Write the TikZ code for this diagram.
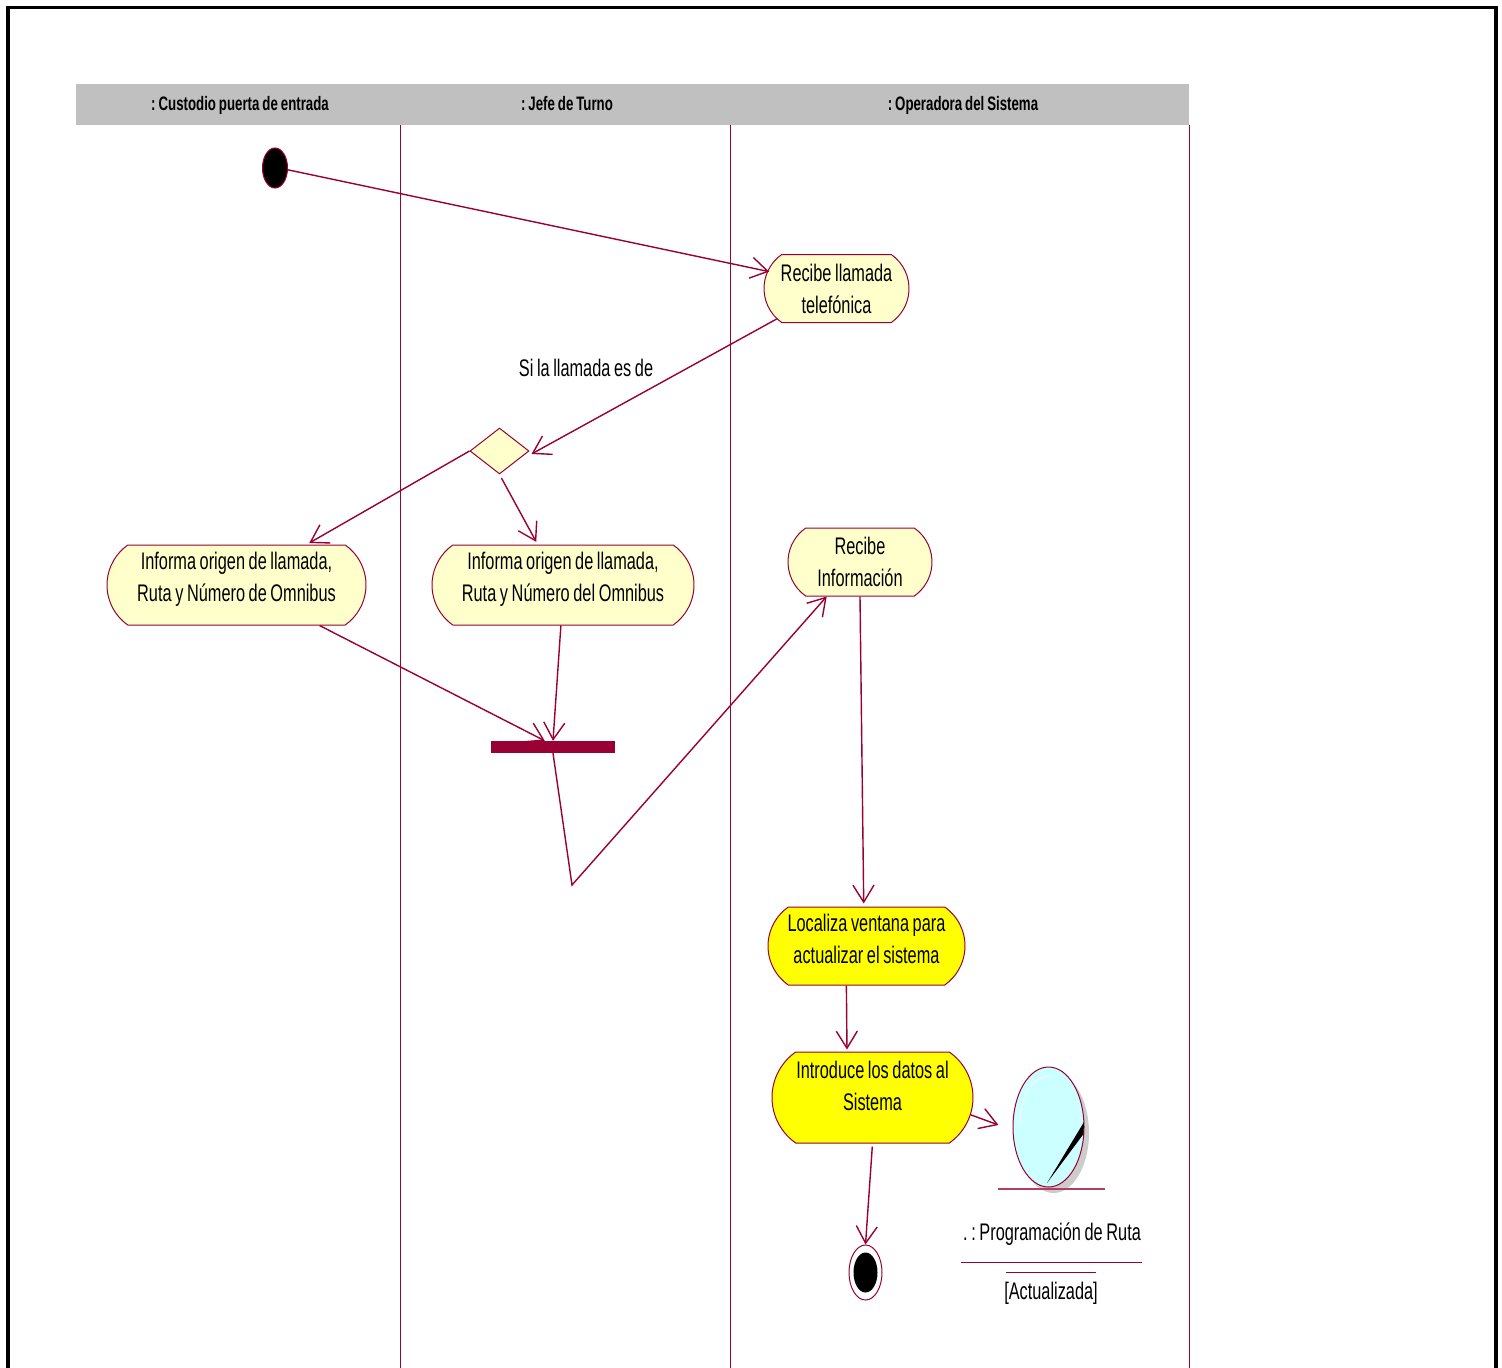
\documentclass[tikz,border=0pt]{standalone}
\usepackage{fontspec}
\setmainfont[FakeStretch=0.68,WordSpace=0.8]{Liberation Sans}
\usetikzlibrary{arrows.meta,shapes.geometric,shapes.misc,calc}
\definecolor{umlline}{HTML}{990033}
\definecolor{umlfill}{HTML}{FFFFCC}
\definecolor{hdr}{HTML}{C0C0C0}
\definecolor{objfill}{HTML}{CCFFFF}
\definecolor{actyellow}{HTML}{FFFF00}
\frenchspacing
\newcommand\liftext[2]{\raisebox{#1}[0pt][0pt]{\begin{tabular}{@{}c@{}}#2\end{tabular}}}
\tikzset{
  lab/.style={font=\fontsize{24}{32}\selectfont,align=center,inner sep=0pt},
  hlab/.style={font=\bfseries\fontsize{19.5}{22}\selectfont,inner sep=0pt,anchor=base},
  act/.style={rounded rectangle,rounded rectangle arc length=110,draw=umlline,line width=1pt,fill=umlfill,
    font=\fontsize{24}{32}\selectfont,align=center,inner sep=0pt},
  actY/.style={act,fill=actyellow},
  flow/.style={draw=umlline,line width=1.4pt,-{Straight Barb[length=17pt,width=21pt,line width=1.4pt]}},
  lane/.style={draw=umlline,line width=0.9pt},
  dot/.style={ellipse,fill=black,draw=umlline,line width=1pt,inner sep=0pt},
}
\begin{document}
\begin{tikzpicture}[x=1pt,y=-1pt]
\useasboundingbox (0,0) rectangle (1502,1368);
\fill[white] (0,0) rectangle (1502,1368);
% frame
\draw[black,line width=3.5pt] (8,1368) -- (8,7.5) -- (1496,7.5) -- (1496,1368);
% header
\node[fill=hdr,minimum width=1113pt,minimum height=41pt,inner sep=0pt] (hdrbar) at (632.5,104.5) {};
\node[hlab] (h1) at (240,110) {: Custodio puerta de entrada};
\node[hlab] (h2) at (567,110) {: Jefe de Turno};
\node[hlab] (h3) at (963,110) {: Operadora del Sistema};
% lanes
\draw[lane] (400.5,125) -- (400.5,1368);
\draw[lane] (730,125) -- (730,1368);
\draw[lane] (1189,125) -- (1189,1368);
% nodes
\node[dot,minimum width=25pt,minimum height=40pt] (start) at (275,168) {};
\node[act,minimum width=145pt,minimum height=68pt] (rec) at (836.5,288.5) {Recibe llamada\\telefónica};
\node[diamond,draw=umlline,line width=1pt,fill=umlfill,inner sep=0pt,minimum width=59pt,minimum height=46pt] (dec) at (499.5,451) {};
\node[lab] (cond) at (586,368) {Si la llamada es de};
\node[act,minimum width=262pt,minimum height=80pt] (inf2) at (563,585) {\liftext{0pt}{Informa origen de llamada,\\Ruta y Número del Omnibus}};
\node[act,minimum width=259pt,minimum height=80pt] (inf1) at (236.5,585) {\liftext{0pt}{Informa origen de llamada,\\Ruta y Número de Omnibus}};
\node[fill=umlline,minimum width=124pt,minimum height=12pt,inner sep=0pt] (bar) at (553,747) {};
\coordinate (bend) at (572,885);
\node[act,minimum width=144pt,minimum height=68pt] (rec2) at (860,562) {Recibe\\Información};
\node[actY,minimum width=197pt,minimum height=78pt] (loc) at (866.5,946) {\liftext{-1pt}{Localiza ventana para\\actualizar el sistema}};
\node[actY,minimum width=201pt,minimum height=91pt] (intro) at (872.5,1097.5) {\liftext{3.5pt}{Introduce los datos al\\Sistema}};
% object
\fill[black!20] (1053.5,1133) ellipse [x radius=35.5,y radius=60];
\node[ellipse,draw=umlline,line width=1pt,fill=objfill,inner sep=0pt,minimum width=71pt,minimum height=120pt] (obj) at (1048.5,1127) {};
\draw[white,line width=0.8pt] (1020,1127) .. controls (1020,1095) and (1030,1078) .. (1049,1076);
\fill[black] (1047,1183) -- (1084,1122) -- (1083.5,1134) -- cycle;
\draw[umlline!75,line width=1.2pt] (998,1189) -- (1105,1189);
\node[lab] (objn) at (1052,1234) {. : Programación de Ruta};
\draw[lane] (961,1262.5) -- (1142,1262.5);
\draw[lane] (1006,1272.5) -- (1096,1272.5);
\node[lab] (objs) at (1051,1293) {[Actualizada]};
\node[ellipse,draw=umlline,line width=1pt,fill=white,inner sep=0pt,minimum width=33pt,minimum height=55pt] (endo) at (865.5,1272.5) {};
\node[dot,draw=none,minimum width=24pt,minimum height=40pt] (endi) at (865.5,1272.5) {};
% connectors
\draw[flow,shorten >=-2pt] (start.-8) -- (rec.166);
\draw[flow] (rec.207) -- ($(dec.east)+(2,3)$);
\draw[flow,shorten >=3pt] (dec.west) -- (inf1.30);
\draw[flow,shorten >=3pt,shorten <=4pt] (dec.south) -- (inf2.122);
\draw[flow] (inf1.-26) -- (bar.143);
\draw[flow] (inf2.-93) -- (bar.north);
\draw[flow] (bar.south) -- (bend) -- (rec2.226);
\draw[flow,shorten >=3pt] (rec2.south) -- (loc.94);
\draw[flow,shorten >=2pt] (loc.243) -- (intro.119);
\draw[flow,shorten >=15pt] (intro.-10) -- (obj.185);
\draw[flow,shorten <=3pt] (intro.south) -- (endo.north);
\end{tikzpicture}
\end{document}
